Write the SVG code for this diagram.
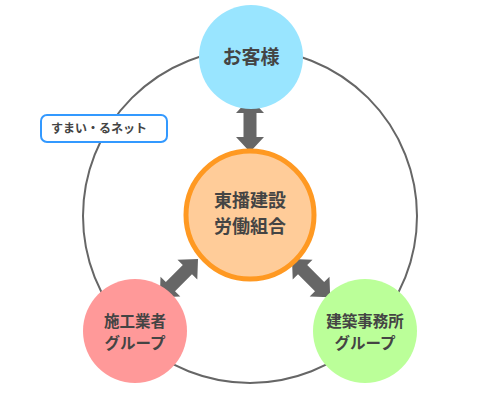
<svg xmlns="http://www.w3.org/2000/svg" width="500" height="400" viewBox="0 0 500 400">
<style>
.t{font-family:"Noto Sans CJK JP","Noto Sans CJK SC",sans-serif;font-weight:bold;fill:#444;text-anchor:middle}
.arr{fill:#666}
</style>
<defs>
<path id="dbl" d="M0,0 L14,15 L6.5,15 L6.5,39 L14,39 L0,54 L-14,39 L-6.5,39 L-6.5,15 L-14,15 Z"/>
</defs>
<rect width="500" height="400" fill="#fff"/>
<circle cx="250" cy="216" r="167" fill="none" stroke="#666" stroke-width="2"/>
<g id="connectors" class="arr">
<use href="#dbl" transform="translate(250,98)"/>
<use href="#dbl" transform="translate(198,259) rotate(45)"/>
<use href="#dbl" transform="translate(292,259) rotate(-45)"/>
</g>
<g id="label">
<rect x="41" y="115" width="126" height="27" rx="6" fill="#fff" stroke="#3399ff" stroke-width="2"/>
<text x="51" y="133" class="t" style="text-anchor:start;font-size:12px">すまい・るネット</text>
</g>
<g id="customer">
<circle cx="251" cy="57" r="52" fill="#99e5ff"/>
<text x="251" y="64" class="t" font-size="19">お客様</text>
</g>
<g id="union">
<circle cx="250" cy="215" r="64" fill="#ffcc99" stroke="#ff9922" stroke-width="5"/>
<text x="250" y="207" class="t" font-size="18">東播建設</text>
<text x="250" y="233" class="t" font-size="18">労働組合</text>
</g>
<g id="builders">
<circle cx="135" cy="331" r="52" fill="#ff9999"/>
<text x="135" y="327" class="t" font-size="15.5">施工業者</text>
<text x="135" y="349" class="t" font-size="15.5">グループ</text>
</g>
<g id="architects">
<circle cx="365" cy="331" r="52" fill="#bbff99"/>
<text x="365" y="327" class="t" font-size="15.5">建築事務所</text>
<text x="365" y="349" class="t" font-size="15.5">グループ</text>
</g>
</svg>
